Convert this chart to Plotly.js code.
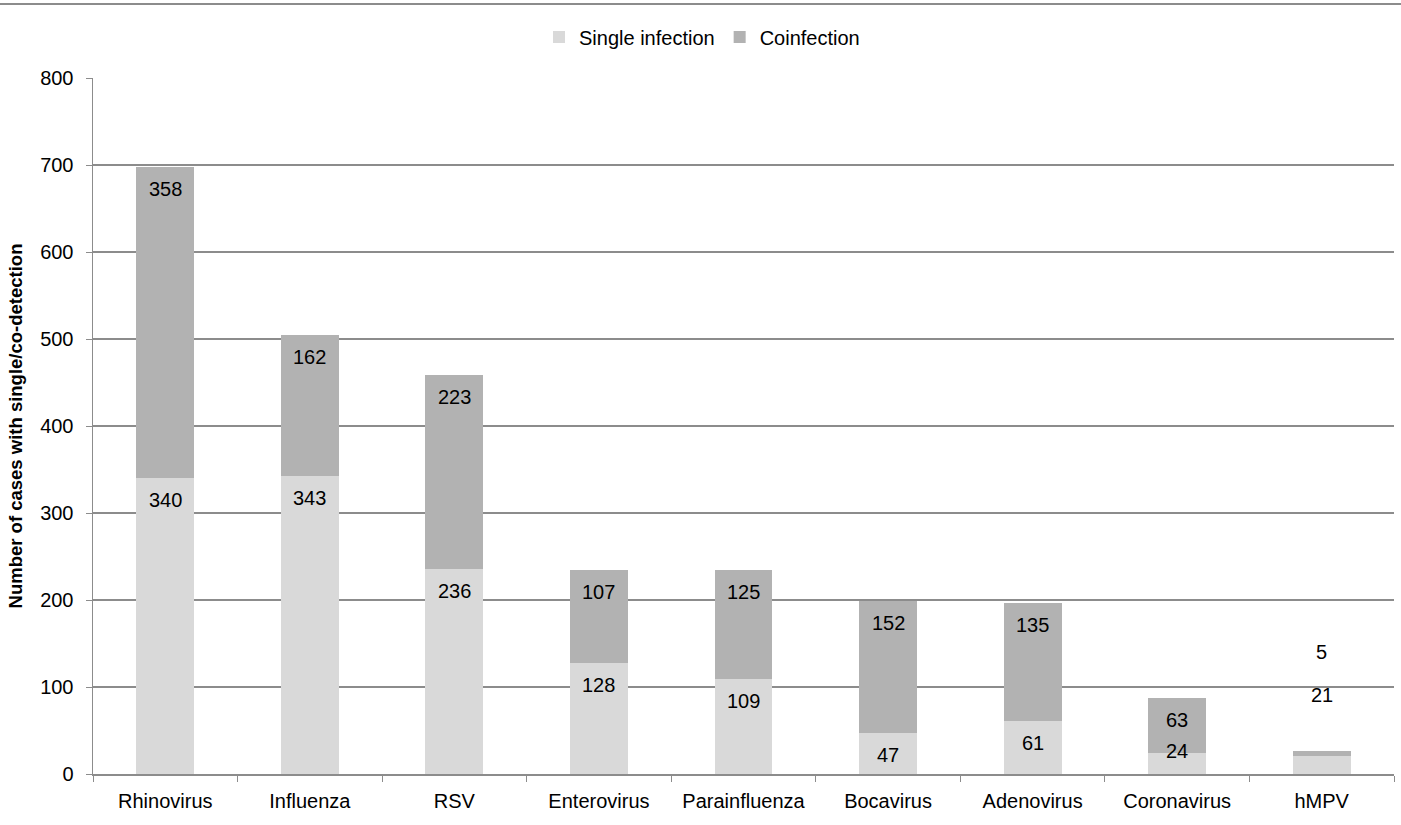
<!DOCTYPE html>
<html>
<head>
<meta charset="utf-8">
<script src="https://cdn.plot.ly/plotly-3.0.1.min.js"></script>
<style>html,body{margin:0;padding:0;background:#fff;}#chart{width:1401px;height:825px;}</style>
</head>
<body>
<div id="chart"></div>
<script>
const categories = ["Rhinovirus", "Influenza", "RSV", "Enterovirus", "Parainfluenza", "Bocavirus", "Adenovirus", "Coronavirus", "hMPV"];
const singleInfection = [340, 343, 236, 128, 109, 47, 61, 24, 21];
const coinfection = [358, 162, 223, 107, 125, 152, 135, 63, 5];
const yTicks = [0, 100, 200, 300, 400, 500, 600, 700, 800];
const seriesNames = ["Single infection", "Coinfection"];

const W = 1401, H = 825;
const M = {l: 93, r: 7, t: 78, b: 51};
const yMax = 800;
const pxPerUnit = (H - M.t - M.b) / yMax;
const FONT = "Liberation Sans, Arial, sans-serif";

const traces = [
  {type: "bar", name: seriesNames[0], x: categories, y: singleInfection,
   marker: {color: "#d9d9d9"}, hoverinfo: "skip"},
  {type: "bar", name: seriesNames[1], x: categories, y: coinfection,
   marker: {color: "#b2b2b2"}, hoverinfo: "skip"}
];

// data labels, inside end of each segment
const annotations = [];
categories.forEach((c, i) => {
  const s = singleInfection[i], co = coinfection[i];
  const total = s + co;
  const totalPx = total * pxPerUnit;
  if (totalPx < 30) {
    annotations.push({x: c, y: total, text: String(s), showarrow: false, yanchor: "middle", yshift: 56});
    annotations.push({x: c, y: total, text: String(co), showarrow: false, yanchor: "middle", yshift: 99});
    return;
  }
  [[s, s], [total, co]].forEach(([top, val]) => {
    const segPx = val * pxPerUnit;
    const d = segPx >= 30 ? 22 : -2;
    annotations.push({x: c, y: top, text: String(val), showarrow: false, yanchor: "middle", yshift: -d});
  });
});
annotations.forEach(a => { a.font = {family: FONT, size: 20, color: "#000"}; });

const layout = {
  width: W, height: H,
  margin: M,
  paper_bgcolor: "#fff", plot_bgcolor: "#fff",
  barmode: "stack",
  bargap: 0.6,
  font: {family: FONT, size: 20, color: "#000"},
  showlegend: true,
  legend: {orientation: "h", x: (702 - M.l) / (W - M.l - M.r), xanchor: "center",
           y: 1 + (M.t - 37) / (H - M.t - M.b), yanchor: "middle",
           font: {family: FONT, size: 20, color: "#000"}, itemwidth: 30, traceorder: "normal"},
  xaxis: {
    type: "category", showline: true, linecolor: "#8c8c8c", linewidth: 1.5,
    ticks: "outside", tickson: "boundaries", ticklen: 6, tickcolor: "#8c8c8c",
    ticklabelstandoff: 8,
    showgrid: false, tickfont: {family: FONT, size: 20, color: "#000"}
  },
  yaxis: {
    range: [0, yMax], tickvals: yTicks, ticktext: yTicks.map(String),
    showline: true, linecolor: "#8c8c8c", linewidth: 1.5,
    ticks: "outside", ticklen: 6, tickcolor: "#8c8c8c",
    showgrid: true, gridcolor: "#8c8c8c", gridwidth: 1.3, zeroline: false,
    ticklabelstandoff: 8,
    tickfont: {family: FONT, size: 20, color: "#000"},
    title: {text: "Number of cases with single/co-detection", standoff: 12,
            font: {family: FONT, size: 18.5, color: "#000", weight: "bold"}}
  },
  annotations: annotations,
  shapes: [{type: "line", xref: "paper", yref: "paper",
            x0: -M.l / (W - M.l - M.r), x1: 1 + M.r / (W - M.l - M.r),
            y0: 1 + (M.t - 4) / (H - M.t - M.b), y1: 1 + (M.t - 4) / (H - M.t - M.b),
            line: {color: "#8c8c8c", width: 2}}]
};

Plotly.newPlot("chart", traces, layout, {displayModeBar: false, staticPlot: true});
</script>
</body>
</html>
